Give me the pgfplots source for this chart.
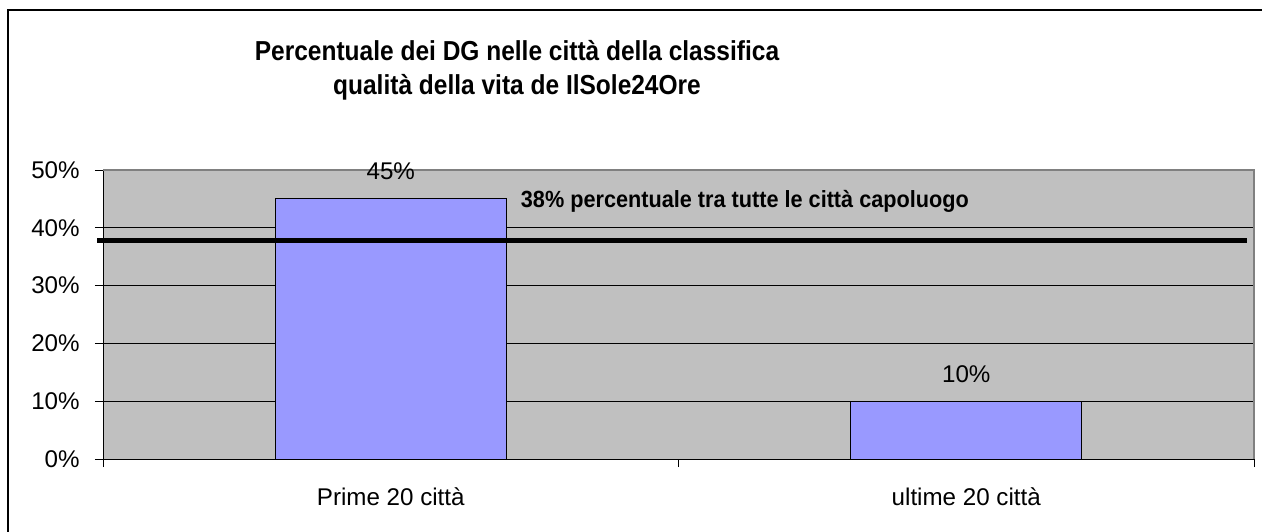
\documentclass[border=0pt]{standalone}
\usepackage{pgfplots}
\pgfplotsset{compat=1.18}
\usepackage{fontspec}
\setmainfont{Liberation Sans}
\definecolor{plotgray}{HTML}{C0C0C0}
\definecolor{barblue}{HTML}{9999FF}
\definecolor{boxgray}{HTML}{808080}
\begin{document}
\begin{tikzpicture}
% picture is 1262 x 531 px, 1px = 0.6pt
\useasboundingbox (0,0) rectangle (757.2pt,318.6pt);
\draw[line width=1.2pt] (4.8pt,-2pt) -- (4.8pt,312.6pt) -- (760pt,312.6pt);
\node[anchor=base, font=\fontsize{14.7}{17}\selectfont\bfseries] at (310.2pt,282pt)
  {\scalebox{1}[1.12]{Percentuale dei DG nelle città della classifica}};
\node[anchor=base, font=\fontsize{14.7}{17}\selectfont\bfseries] at (310.2pt,261.6pt)
  {\scalebox{1}[1.12]{qualità della vita de IlSole24Ore}};
\begin{axis}[
    at={(61.8pt,43.2pt)}, anchor=south west,
    scale only axis,
    width=690.6pt, height=173.4pt,
    xmin=-0.5, xmax=1.5,
    ymin=0, ymax=50,
    clip=false,
    axis x line*=bottom, axis y line*=left,
    axis line style={black, line width=0.6pt},
    axis background/.style={fill=plotgray},
    tick align=outside,
    major tick length=4.8pt,
    tick style={black, line width=0.6pt},
    xtick={-0.5,0.5,1.5}, xticklabels={},
    extra x ticks={0,1},
    extra x tick labels={Prime 20 città,ultime 20 città},
    extra x tick style={major tick length=0pt,
        tick label style={anchor=base, yshift=-27.6pt}},
    ytick={0,10,20,30,40,50},
    yticklabels={0\%,10\%,20\%,30\%,40\%,50\%},
    ymajorgrids=true,
    grid style={black, line width=0.6pt},
    yticklabel style={anchor=east, inner sep=0pt, xshift=-9pt},
    ticklabel style={font=\fontsize{14.5}{16}\selectfont},
]
\draw[boxgray, line width=0.8pt] (rel axis cs:0,1) -- (rel axis cs:1,1) -- (rel axis cs:1,0);
\addplot[ybar, bar width=138.6pt, fill=barblue, draw=black, line width=0.6pt,
    nodes near coords={\pgfmathprintnumber[assume math mode=true]{\pgfplotspointmeta}\%},
    every node near coord/.append style={font=\fontsize{14.5}{16}\selectfont, anchor=base, yshift=11.4pt}]
    coordinates {(0,45) (1,10)};
\addplot[black, line width=3pt] coordinates {(-0.51,37.8) (1.488,37.8)};
\node[anchor=base west, font=\fontsize{13}{15}\selectfont\bfseries] at (axis cs:0.216,43.5)
  {\scalebox{1}[1.08]{38\% percentuale tra tutte le città capoluogo}};
\end{axis}
\end{tikzpicture}
\end{document}
